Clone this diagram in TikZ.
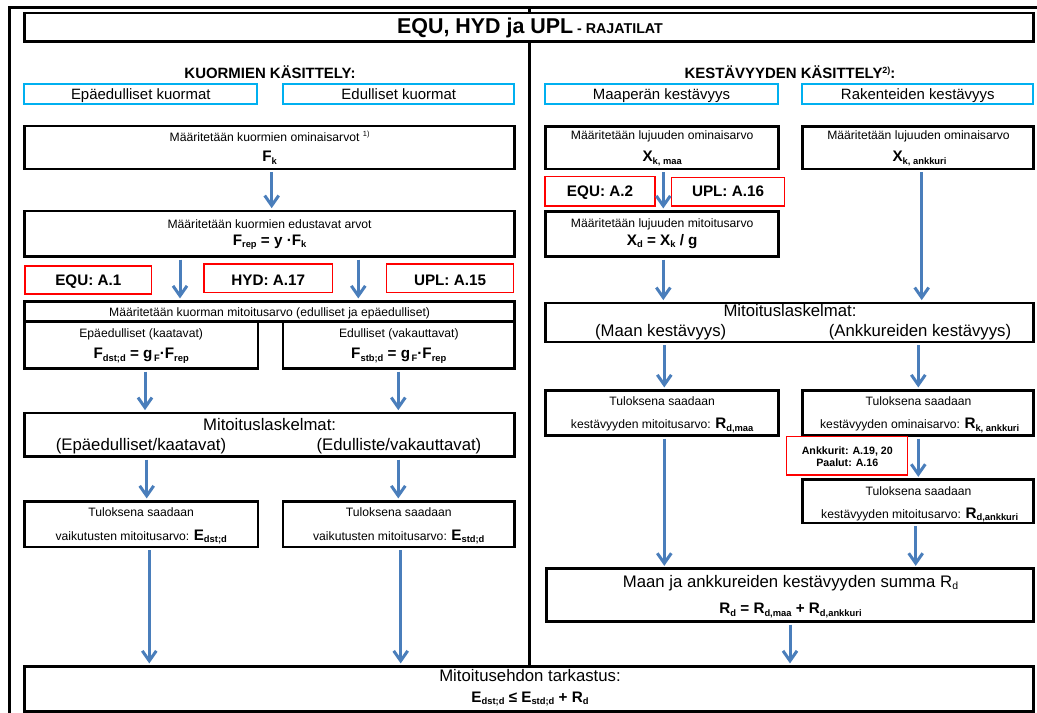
\documentclass[tikz,border=0pt]{standalone}
\usepackage{fontspec}
\setmainfont{Liberation Sans}
\usetikzlibrary{arrows.meta,fit}

\definecolor{flowblue}{RGB}{74,126,187}
\definecolor{tabcyan}{RGB}{0,176,240}
\definecolor{refred}{RGB}{255,0,0}

% font size helper, lowered subscripts and raised footnote marks
\newcommand{\fsz}[1]{\fontsize{#1}{#1}\selectfont}
\newcommand{\bsub}[1]{\raisebox{-2.8bp}{\fsz{9.4}\bfseries #1}}
\newcommand{\rsub}[1]{\raisebox{-2.8bp}{\fsz{10.5}#1}}
\newcommand{\supr}[2]{\raisebox{5bp}{\fsz{#1}#2}}

\begin{document}
\begin{tikzpicture}[x=1bp,y=-1bp,
  frameline/.style={line width=2.7bp},
  blackbox/.style={draw, line width=2.7bp, fill=white, inner sep=0pt},
  cyanbox/.style={draw=tabcyan, line width=2.2bp, fill=white, inner sep=0pt},
  redbox/.style={draw=refred, line width=1.2bp, fill=white, inner sep=0pt},
  txt/.style={inner sep=0pt, anchor=base},
  small/.style={txt, font=\fsz{12.2}},
  big/.style={txt, font=\fsz{16.8}},
  form/.style={txt, font=\fsz{15.3}\bfseries},
  head/.style={txt, font=\fsz{15}\bfseries},
  tab/.style={txt, font=\fsz{15}},
  reflab/.style={txt, font=\fsz{15.3}\bfseries},
  tinylab/.style={txt, font=\fsz{10.7}\bfseries},
  arr/.style={draw=flowblue, line width=3bp,
    -{Straight Barb[length=10bp,width=14bp]},
    shorten <=2bp, shorten >=1.5bp},
]
\useasboundingbox (0,0) rectangle (1037,713);

% outer frame and column divider
\draw[frameline, line join=miter] (9.2,714) -- (9.2,7.3) -- (1038,7.3);
\draw[frameline] (529.8,7.3) -- (529.8,667);

% title
\node[blackbox, fit={(24.7,13) (1033.7,41.3)}] (title) {};
\node[txt] (titletext) at (530,33.3)
  {\fsz{21.5}\bfseries EQU, HYD ja UPL\fsz{14.3} - RAJATILAT};

% column headings
\node[head] (kuorm) at (270,78.3) {KUORMIEN KÄSITTELY:};
\node[head] (kest) at (790,78.3) {KESTÄVYYDEN KÄSITTELY\supr{9}{2)}:};

\node[cyanbox, fit={(24.3,84.3) (257.3,104)}] (tabepa) {};
\node[tab] (tabepa-t) at (140.8,99.3) {Epäedulliset kuormat};
\node[cyanbox, fit={(283.3,84.3) (514.3,104)}] (tabedu) {};
\node[tab] (tabedu-t) at (398.8,99.3) {Edulliset kuormat};
\node[cyanbox, fit={(545.3,84.3) (777.8,104)}] (tabmaa) {};
\node[tab] (tabmaa-t) at (661.5,99.3) {Maaperän kestävyys};
\node[cyanbox, fit={(802.3,84.3) (1033.3,104)}] (tabrak) {};
\node[tab] (tabrak-t) at (917.8,99.3) {Rakenteiden kestävyys};

% ---------- loads (left column) ----------
\node[blackbox, fit={(24.5,125.9) (514.7,169.1)}] (fk) {};
\node[small] (fk-a) at (269.6,141.7) {Määritetään kuormien ominaisarvot \supr{7.5}{1)}};
\node[form] (fk-b) at (269.6,161.7) {F\bsub{k}};

\node[blackbox, fit={(24.5,211) (514.7,256.3)}] (frep) {};
\node[small] (frep-a) at (269.6,228.3) {Määritetään kuormien edustavat arvot};
\node[form] (frep-b) at (269.6,245) {F\bsub{rep} = y ·F\bsub{k}};

\node[redbox, fit={(25,266) (151.7,294)}] (equa) {};
\node[reflab] (equa-t) at (88.3,285.7) {EQU: A.1};
\node[redbox, fit={(204,264) (332.3,292.3)}] (hyda) {};
\node[reflab] (hyda-t) at (268.2,285) {HYD: A.17};
\node[redbox, fit={(386.7,264) (513.3,292.3)}] (upla) {};
\node[reflab] (upla-t) at (450,285) {UPL: A.15};

\node[blackbox, fit={(24.5,301.3) (514.7,321.3)}] (mit) {};
\node[small] (mit-t) at (269.6,316.5) {Määritetään kuorman mitoitusarvo (edulliset ja epäedulliset)};

\node[blackbox, fit={(24.5,321.3) (258,368.3)}] (dst) {};
\node[small] (dst-a) at (141.2,337) {Epäedulliset (kaatavat)};
\node[form] (dst-b) at (141.2,358.3) {F\bsub{dst;d} = g\bsub{\,F}·F\bsub{rep}};
\node[blackbox, fit={(283,321.3) (514.7,368.3)}] (stb) {};
\node[small] (stb-a) at (398.8,337) {Edulliset (vakauttavat)};
\node[form] (stb-b) at (398.8,358.3) {F\bsub{stb;d} = g\bsub{\,F}·F\bsub{rep}};

\node[blackbox, fit={(24.5,413) (514.7,456.3)}] (calcl) {};
\node[big] (calcl-a) at (269.6,430) {Mitoituslaskelmat:};
\node[big] (calcl-b) at (141,450) {(Epäedulliset/kaatavat)};
\node[big] (calcl-c) at (399,450) {(Edulliste/vakauttavat)};

\node[blackbox, fit={(24.5,501.3) (258,547)}] (edst) {};
\node[small] (edst-a) at (141.2,516.7) {Tuloksena saadaan};
\node[small] (edst-b) at (141.2,540) {vaikutusten mitoitusarvo: {\fsz{15.3}\bfseries E\bsub{dst;d}}};
\node[blackbox, fit={(283,501.3) (514.7,547)}] (estd) {};
\node[small] (estd-a) at (398.8,516.7) {Tuloksena saadaan};
\node[small] (estd-b) at (398.8,540) {vaikutusten mitoitusarvo: {\fsz{15.3}\bfseries E\bsub{std;d}}};

% ---------- resistance (right column) ----------
\node[blackbox, fit={(545.7,126.3) (778.7,169)}] (xkmaa) {};
\node[small] (xkmaa-a) at (662.2,140) {Määritetään lujuuden ominaisarvo};
\node[form] (xkmaa-b) at (662.2,161.7) {X\bsub{k, maa}};
\node[blackbox, fit={(802.3,126.3) (1033.7,169)}] (xkank) {};
\node[small] (xkank-a) at (918.5,140) {Määritetään lujuuden ominaisarvo};
\node[form] (xkank-b) at (919.5,161.7) {X\bsub{k, ankkuri}};

\node[redbox, fit={(545,176.7) (655,206)}] (equb) {};
\node[reflab] (equb-t) at (600,196.7) {EQU: A.2};
\node[redbox, fit={(671.7,177.3) (784.3,206)}] (uplb) {};
\node[reflab] (uplb-t) at (728,196.7) {UPL: A.16};

\node[blackbox, fit={(545.7,211.3) (778.7,256.3)}] (xd) {};
\node[small] (xd-a) at (662.2,227) {Määritetään lujuuden mitoitusarvo};
\node[form] (xd-b) at (662.2,245) {X\bsub{d} = X\bsub{k} / g};

\node[blackbox, fit={(545.7,303) (1033.7,342)}] (calcr) {};
\node[big] (calcr-a) at (790,316.7) {Mitoituslaskelmat:};
\node[big] (calcr-b) at (660.7,336.5) {(Maan kestävyys)};
\node[big] (calcr-c) at (920,336.5) {(Ankkureiden kestävyys)};

\node[blackbox, fit={(545.7,390.3) (778.7,435.3)}] (rdmaa) {};
\node[small] (rdmaa-a) at (662.2,405) {Tuloksena saadaan};
\node[small] (rdmaa-b) at (662.2,428.3) {kestävyyden mitoitusarvo: {\fsz{15.3}\bfseries R\bsub{d,maa}}};
\node[blackbox, fit={(802.3,390.3) (1033.7,435.3)}] (rkank) {};
\node[small] (rkank-a) at (918.5,405) {Tuloksena saadaan};
\node[small] (rkank-b) at (919.7,428.3) {kestävyyden ominaisarvo: {\fsz{15.3}\bfseries R\bsub{k, ankkuri}}};

\node[redbox, fit={(786.7,436.7) (907.3,475)}] (ankk) {};
\node[tinylab] (ankk-a) at (847.3,454) {Ankkurit: A.19, 20};
\node[tinylab] (ankk-b) at (847.3,466) {Paalut: A.16};

\node[blackbox, fit={(802.7,479.7) (1033.7,523)}] (rdank) {};
\node[small] (rdank-a) at (918.5,495) {Tuloksena saadaan};
\node[small] (rdank-b) at (919.7,518) {kestävyyden mitoitusarvo: {\fsz{15.3}\bfseries R\bsub{d,ankkuri}}};

\node[blackbox, fit={(546.3,568.7) (1033.7,621.3)}] (sum) {};
\node[big] (sum-a) at (790.5,587) {Maan ja ankkureiden kestävyyden summa R\rsub{d}};
\node[form] (sum-b) at (790.5,613.3) {R\bsub{d} = R\bsub{d,maa} + R\bsub{d,ankkuri}};

% ---------- verification ----------
\node[blackbox, fit={(24.7,666.3) (1033.7,711.3)}] (final) {};
\node[big] (final-a) at (530,681) {Mitoitusehdon tarkastus:};
\node[form] (final-b) at (530,702) {E\bsub{dst;d} ≤ E\bsub{std;d} + R\bsub{d}};

% ---------- connectors ----------
\coordinate (xa1) at (271.7,0);
\coordinate (xa2) at (180,0);
\coordinate (xa3) at (358.3,0);
\coordinate (xa4) at (145,0);
\coordinate (xa5) at (398.3,0);
\coordinate (xa6) at (146.7,0);
\coordinate (xa7) at (398.3,0);
\coordinate (xa8) at (149.3,0);
\coordinate (xa9) at (400.7,0);
\coordinate (xb1) at (663.3,0);
\coordinate (xb3) at (921.7,0);
\coordinate (xb4) at (664.3,0);
\coordinate (xb5) at (918.3,0);
\coordinate (xb8) at (915.7,0);
\coordinate (xb9) at (790,0);

\draw[arr] (fk.south -| xa1) -- (frep.north -| xa1);
\draw[arr] (frep.south -| xa2) -- (mit.north -| xa2);
\draw[arr] (frep.south -| xa3) -- (mit.north -| xa3);
\draw[arr] (dst.south -| xa4) -- (calcl.north -| xa4);
\draw[arr] (stb.south -| xa5) -- (calcl.north -| xa5);
\draw[arr] (calcl.south -| xa6) -- (edst.north -| xa6);
\draw[arr] (calcl.south -| xa7) -- (estd.north -| xa7);
\draw[arr] (edst.south -| xa8) -- (final.north -| xa8);
\draw[arr] (estd.south -| xa9) -- (final.north -| xa9);

\draw[arr] (xkmaa.south -| xb1) -- (xd.north -| xb1);
\draw[arr] (xd.south -| xb1) -- (calcr.north -| xb1);
\draw[arr] (xkank.south -| xb3) -- (calcr.north -| xb3);
\draw[arr] (calcr.south -| xb4) -- (rdmaa.north -| xb4);
\draw[arr] (calcr.south -| xb5) -- (rkank.north -| xb5);
\draw[arr] (rkank.south -| xb5) -- (rdank.north -| xb5);
\draw[arr] (rdmaa.south -| xb4) -- (sum.north -| xb4);
\draw[arr] (rdank.south -| xb8) -- (sum.north -| xb8);
\draw[arr] (sum.south -| xb9) -- (final.north -| xb9);
\end{tikzpicture}
\end{document}
